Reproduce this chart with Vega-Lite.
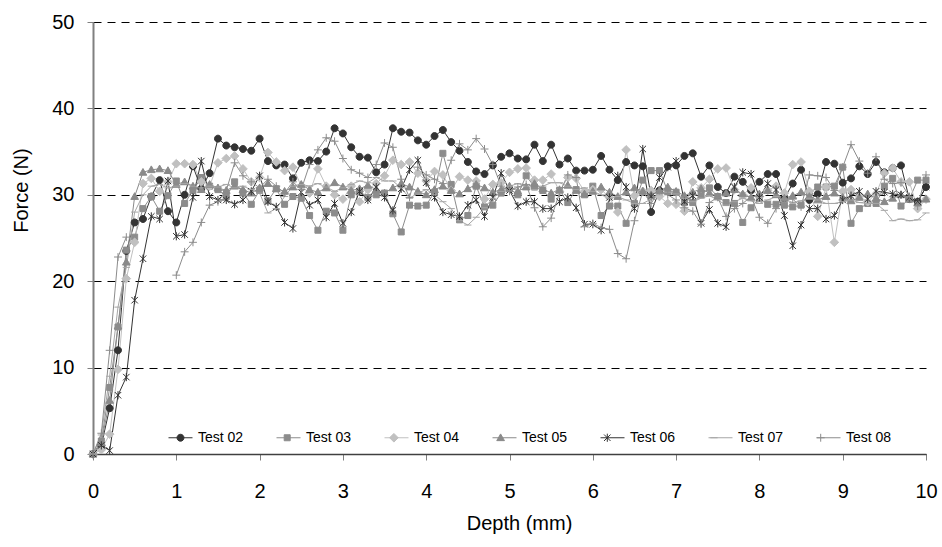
{
  "$schema": "https://vega.github.io/schema/vega-lite/v6.json",
  "width": 833,
  "height": 432,
  "autosize": {"type": "none"},
  "padding": {"left": 93, "top": 22, "right": 16, "bottom": 93},
  "background": "white",
  "config": {
    "view": {"stroke": null},
    "font": "Liberation Sans",
    "axis": {"labelFont": "Liberation Sans", "titleFont": "Liberation Sans", "labelColor": "#000", "titleColor": "#000", "labelFontSize": 20, "titleFontSize": 20, "titleFontWeight": "normal"},
    "legend": {"labelFont": "Liberation Sans"}
  },
  "data": {"values": [
{"test":"Test 02","depth":0,"force":0},{"test":"Test 02","depth":0.1,"force":1.0},{"test":"Test 02","depth":0.2,"force":5.3},{"test":"Test 02","depth":0.3,"force":12.0},{"test":"Test 02","depth":0.4,"force":23.5},{"test":"Test 02","depth":0.5,"force":26.8},{"test":"Test 02","depth":0.6,"force":27.2},{"test":"Test 02","depth":0.7,"force":29.8},{"test":"Test 02","depth":0.8,"force":31.7},{"test":"Test 02","depth":0.9,"force":28.1},
{"test":"Test 02","depth":1,"force":26.8},{"test":"Test 02","depth":1.1,"force":30.0},{"test":"Test 02","depth":1.2,"force":33.3},{"test":"Test 02","depth":1.3,"force":30.7},{"test":"Test 02","depth":1.4,"force":32.5},{"test":"Test 02","depth":1.5,"force":36.5},{"test":"Test 02","depth":1.6,"force":35.7},{"test":"Test 02","depth":1.7,"force":35.5},{"test":"Test 02","depth":1.8,"force":35.3},{"test":"Test 02","depth":1.9,"force":35.1},
{"test":"Test 02","depth":2,"force":36.5},{"test":"Test 02","depth":2.1,"force":33.9},{"test":"Test 02","depth":2.2,"force":33.4},{"test":"Test 02","depth":2.3,"force":33.5},{"test":"Test 02","depth":2.4,"force":31.9},{"test":"Test 02","depth":2.5,"force":33.7},{"test":"Test 02","depth":2.6,"force":34.0},{"test":"Test 02","depth":2.7,"force":33.9},{"test":"Test 02","depth":2.8,"force":35.0},{"test":"Test 02","depth":2.9,"force":37.7},
{"test":"Test 02","depth":3,"force":37.1},{"test":"Test 02","depth":3.1,"force":35.5},{"test":"Test 02","depth":3.2,"force":34.4},{"test":"Test 02","depth":3.3,"force":34.3},{"test":"Test 02","depth":3.4,"force":32.6},{"test":"Test 02","depth":3.5,"force":33.5},{"test":"Test 02","depth":3.6,"force":37.7},{"test":"Test 02","depth":3.7,"force":37.3},{"test":"Test 02","depth":3.8,"force":37.2},{"test":"Test 02","depth":3.9,"force":36.3},
{"test":"Test 02","depth":4,"force":35.8},{"test":"Test 02","depth":4.1,"force":36.8},{"test":"Test 02","depth":4.2,"force":37.5},{"test":"Test 02","depth":4.3,"force":36.1},{"test":"Test 02","depth":4.4,"force":35.1},{"test":"Test 02","depth":4.5,"force":33.8},{"test":"Test 02","depth":4.6,"force":32.7},{"test":"Test 02","depth":4.7,"force":32.4},{"test":"Test 02","depth":4.8,"force":33.4},{"test":"Test 02","depth":4.9,"force":34.4},
{"test":"Test 02","depth":5,"force":34.8},{"test":"Test 02","depth":5.1,"force":34.2},{"test":"Test 02","depth":5.2,"force":34.1},{"test":"Test 02","depth":5.3,"force":35.8},{"test":"Test 02","depth":5.4,"force":33.9},{"test":"Test 02","depth":5.5,"force":35.8},{"test":"Test 02","depth":5.6,"force":33.5},{"test":"Test 02","depth":5.7,"force":34.2},{"test":"Test 02","depth":5.8,"force":32.8},{"test":"Test 02","depth":5.9,"force":32.8},
{"test":"Test 02","depth":6,"force":32.9},{"test":"Test 02","depth":6.1,"force":34.5},{"test":"Test 02","depth":6.2,"force":32.9},{"test":"Test 02","depth":6.3,"force":31.7},{"test":"Test 02","depth":6.4,"force":33.8},{"test":"Test 02","depth":6.5,"force":33.4},{"test":"Test 02","depth":6.6,"force":33.3},{"test":"Test 02","depth":6.7,"force":28.0},{"test":"Test 02","depth":6.8,"force":30.5},{"test":"Test 02","depth":6.9,"force":33.3},
{"test":"Test 02","depth":7,"force":33.4},{"test":"Test 02","depth":7.1,"force":34.5},{"test":"Test 02","depth":7.2,"force":34.8},{"test":"Test 02","depth":7.3,"force":32.1},{"test":"Test 02","depth":7.4,"force":33.4},{"test":"Test 02","depth":7.5,"force":30.9},{"test":"Test 02","depth":7.6,"force":30.2},{"test":"Test 02","depth":7.7,"force":32.1},{"test":"Test 02","depth":7.8,"force":31.5},{"test":"Test 02","depth":7.9,"force":30.5},
{"test":"Test 02","depth":8,"force":31.5},{"test":"Test 02","depth":8.1,"force":32.4},{"test":"Test 02","depth":8.2,"force":32.4},{"test":"Test 02","depth":8.3,"force":29.6},{"test":"Test 02","depth":8.4,"force":31.3},{"test":"Test 02","depth":8.5,"force":32.9},{"test":"Test 02","depth":8.6,"force":29.4},{"test":"Test 02","depth":8.7,"force":30.1},{"test":"Test 02","depth":8.8,"force":33.8},{"test":"Test 02","depth":8.9,"force":33.6},
{"test":"Test 02","depth":9,"force":31.4},{"test":"Test 02","depth":9.1,"force":31.9},{"test":"Test 02","depth":9.2,"force":33.3},{"test":"Test 02","depth":9.3,"force":32.4},{"test":"Test 02","depth":9.4,"force":33.8},{"test":"Test 02","depth":9.5,"force":32.6},{"test":"Test 02","depth":9.6,"force":33.1},{"test":"Test 02","depth":9.7,"force":33.4},{"test":"Test 02","depth":9.8,"force":29.5},{"test":"Test 02","depth":9.9,"force":29.2},{"test":"Test 02","depth":10,"force":30.9},

{"test":"Test 03","depth":0,"force":0},{"test":"Test 03","depth":0.1,"force":1.5},{"test":"Test 03","depth":0.2,"force":7.7},{"test":"Test 03","depth":0.3,"force":14.7},{"test":"Test 03","depth":0.4,"force":23.6},{"test":"Test 03","depth":0.5,"force":25.1},{"test":"Test 03","depth":0.6,"force":28.4},{"test":"Test 03","depth":0.7,"force":29.8},{"test":"Test 03","depth":0.8,"force":28.1},{"test":"Test 03","depth":0.9,"force":29.9},
{"test":"Test 03","depth":1,"force":31.6},{"test":"Test 03","depth":1.1,"force":29.0},{"test":"Test 03","depth":1.2,"force":30.5},{"test":"Test 03","depth":1.3,"force":32.0},{"test":"Test 03","depth":1.4,"force":31.0},{"test":"Test 03","depth":1.5,"force":30.6},{"test":"Test 03","depth":1.6,"force":29.8},{"test":"Test 03","depth":1.7,"force":31.5},{"test":"Test 03","depth":1.8,"force":30.2},{"test":"Test 03","depth":1.9,"force":28.9},
{"test":"Test 03","depth":2,"force":30.5},{"test":"Test 03","depth":2.1,"force":29.3},{"test":"Test 03","depth":2.2,"force":30.7},{"test":"Test 03","depth":2.3,"force":28.9},{"test":"Test 03","depth":2.4,"force":29.8},{"test":"Test 03","depth":2.5,"force":29.6},{"test":"Test 03","depth":2.6,"force":27.6},{"test":"Test 03","depth":2.7,"force":25.9},{"test":"Test 03","depth":2.8,"force":28.1},{"test":"Test 03","depth":2.9,"force":27.9},
{"test":"Test 03","depth":3,"force":25.9},{"test":"Test 03","depth":3.1,"force":30.0},{"test":"Test 03","depth":3.2,"force":30.4},{"test":"Test 03","depth":3.3,"force":29.7},{"test":"Test 03","depth":3.4,"force":30.0},{"test":"Test 03","depth":3.5,"force":30.2},{"test":"Test 03","depth":3.6,"force":27.8},{"test":"Test 03","depth":3.7,"force":25.7},{"test":"Test 03","depth":3.8,"force":28.8},{"test":"Test 03","depth":3.9,"force":28.7},
{"test":"Test 03","depth":4,"force":28.8},{"test":"Test 03","depth":4.1,"force":30.3},{"test":"Test 03","depth":4.2,"force":34.8},{"test":"Test 03","depth":4.3,"force":31.2},{"test":"Test 03","depth":4.4,"force":27.1},{"test":"Test 03","depth":4.5,"force":27.6},{"test":"Test 03","depth":4.6,"force":31.0},{"test":"Test 03","depth":4.7,"force":28.6},{"test":"Test 03","depth":4.8,"force":28.8},{"test":"Test 03","depth":4.9,"force":30.2},
{"test":"Test 03","depth":5,"force":30.7},{"test":"Test 03","depth":5.1,"force":30.0},{"test":"Test 03","depth":5.2,"force":32.2},{"test":"Test 03","depth":5.3,"force":30.9},{"test":"Test 03","depth":5.4,"force":30.5},{"test":"Test 03","depth":5.5,"force":29.5},{"test":"Test 03","depth":5.6,"force":30.5},{"test":"Test 03","depth":5.7,"force":29.1},{"test":"Test 03","depth":5.8,"force":30.6},{"test":"Test 03","depth":5.9,"force":30.0},
{"test":"Test 03","depth":6,"force":31.0},{"test":"Test 03","depth":6.1,"force":27.6},{"test":"Test 03","depth":6.2,"force":28.7},{"test":"Test 03","depth":6.3,"force":28.7},{"test":"Test 03","depth":6.4,"force":26.7},{"test":"Test 03","depth":6.5,"force":29.0},{"test":"Test 03","depth":6.6,"force":31.7},{"test":"Test 03","depth":6.7,"force":32.8},{"test":"Test 03","depth":6.8,"force":32.8},{"test":"Test 03","depth":6.9,"force":30.4},
{"test":"Test 03","depth":7,"force":30.3},{"test":"Test 03","depth":7.1,"force":29.1},{"test":"Test 03","depth":7.2,"force":29.1},{"test":"Test 03","depth":7.3,"force":30.0},{"test":"Test 03","depth":7.4,"force":30.8},{"test":"Test 03","depth":7.5,"force":29.8},{"test":"Test 03","depth":7.6,"force":29.1},{"test":"Test 03","depth":7.7,"force":29.0},{"test":"Test 03","depth":7.8,"force":26.8},{"test":"Test 03","depth":7.9,"force":28.5},
{"test":"Test 03","depth":8,"force":29.6},{"test":"Test 03","depth":8.1,"force":28.9},{"test":"Test 03","depth":8.2,"force":28.9},{"test":"Test 03","depth":8.3,"force":28.8},{"test":"Test 03","depth":8.4,"force":28.6},{"test":"Test 03","depth":8.5,"force":28.8},{"test":"Test 03","depth":8.6,"force":30.2},{"test":"Test 03","depth":8.7,"force":30.9},{"test":"Test 03","depth":8.8,"force":30.9},{"test":"Test 03","depth":8.9,"force":31.0},
{"test":"Test 03","depth":9,"force":33.2},{"test":"Test 03","depth":9.1,"force":26.7},{"test":"Test 03","depth":9.2,"force":28.4},{"test":"Test 03","depth":9.3,"force":29.0},{"test":"Test 03","depth":9.4,"force":29.0},{"test":"Test 03","depth":9.5,"force":31.0},{"test":"Test 03","depth":9.6,"force":31.9},{"test":"Test 03","depth":9.7,"force":28.7},{"test":"Test 03","depth":9.8,"force":29.5},{"test":"Test 03","depth":9.9,"force":31.7},{"test":"Test 03","depth":10,"force":31.7},

{"test":"Test 04","depth":0,"force":0},{"test":"Test 04","depth":0.1,"force":0.5},{"test":"Test 04","depth":0.2,"force":2.3},{"test":"Test 04","depth":0.3,"force":9.8},{"test":"Test 04","depth":0.4,"force":20.3},{"test":"Test 04","depth":0.5,"force":24.5},{"test":"Test 04","depth":0.6,"force":31.3},{"test":"Test 04","depth":0.7,"force":31.9},{"test":"Test 04","depth":0.8,"force":30.4},{"test":"Test 04","depth":0.9,"force":31.5},
{"test":"Test 04","depth":1,"force":33.6},{"test":"Test 04","depth":1.1,"force":33.6},{"test":"Test 04","depth":1.2,"force":33.5},{"test":"Test 04","depth":1.3,"force":31.5},{"test":"Test 04","depth":1.4,"force":31.0},{"test":"Test 04","depth":1.5,"force":33.7},{"test":"Test 04","depth":1.6,"force":34.2},{"test":"Test 04","depth":1.7,"force":34.5},{"test":"Test 04","depth":1.8,"force":33.0},{"test":"Test 04","depth":1.9,"force":31.5},
{"test":"Test 04","depth":2,"force":32.0},{"test":"Test 04","depth":2.1,"force":34.9},{"test":"Test 04","depth":2.2,"force":33.8},{"test":"Test 04","depth":2.3,"force":32.8},{"test":"Test 04","depth":2.4,"force":33.2},{"test":"Test 04","depth":2.5,"force":31.0},{"test":"Test 04","depth":2.6,"force":30.2},{"test":"Test 04","depth":2.7,"force":33.0},{"test":"Test 04","depth":2.8,"force":31.0},{"test":"Test 04","depth":2.9,"force":30.0},
{"test":"Test 04","depth":3,"force":29.5},{"test":"Test 04","depth":3.1,"force":31.0},{"test":"Test 04","depth":3.2,"force":29.2},{"test":"Test 04","depth":3.3,"force":30.6},{"test":"Test 04","depth":3.4,"force":31.3},{"test":"Test 04","depth":3.5,"force":32.2},{"test":"Test 04","depth":3.6,"force":34.0},{"test":"Test 04","depth":3.7,"force":33.5},{"test":"Test 04","depth":3.8,"force":33.8},{"test":"Test 04","depth":3.9,"force":32.5},
{"test":"Test 04","depth":4,"force":31.6},{"test":"Test 04","depth":4.1,"force":32.7},{"test":"Test 04","depth":4.2,"force":32.3},{"test":"Test 04","depth":4.3,"force":30.5},{"test":"Test 04","depth":4.4,"force":32.1},{"test":"Test 04","depth":4.5,"force":31.7},{"test":"Test 04","depth":4.6,"force":31.6},{"test":"Test 04","depth":4.7,"force":29.5},{"test":"Test 04","depth":4.8,"force":31.2},{"test":"Test 04","depth":4.9,"force":31.4},
{"test":"Test 04","depth":5,"force":32.6},{"test":"Test 04","depth":5.1,"force":33.0},{"test":"Test 04","depth":5.2,"force":33.1},{"test":"Test 04","depth":5.3,"force":31.7},{"test":"Test 04","depth":5.4,"force":31.7},{"test":"Test 04","depth":5.5,"force":32.4},{"test":"Test 04","depth":5.6,"force":30.4},{"test":"Test 04","depth":5.7,"force":32.0},{"test":"Test 04","depth":5.8,"force":31.9},{"test":"Test 04","depth":5.9,"force":30.4},
{"test":"Test 04","depth":6,"force":30.6},{"test":"Test 04","depth":6.1,"force":30.6},{"test":"Test 04","depth":6.2,"force":29.7},{"test":"Test 04","depth":6.3,"force":28.0},{"test":"Test 04","depth":6.4,"force":35.2},{"test":"Test 04","depth":6.5,"force":29.9},{"test":"Test 04","depth":6.6,"force":30.4},{"test":"Test 04","depth":6.7,"force":30.5},{"test":"Test 04","depth":6.8,"force":29.8},{"test":"Test 04","depth":6.9,"force":29.0},
{"test":"Test 04","depth":7,"force":28.9},{"test":"Test 04","depth":7.1,"force":28.1},{"test":"Test 04","depth":7.2,"force":31.5},{"test":"Test 04","depth":7.3,"force":30.8},{"test":"Test 04","depth":7.4,"force":31.8},{"test":"Test 04","depth":7.5,"force":33.0},{"test":"Test 04","depth":7.6,"force":33.1},{"test":"Test 04","depth":7.7,"force":30.6},{"test":"Test 04","depth":7.8,"force":30.0},{"test":"Test 04","depth":7.9,"force":30.8},
{"test":"Test 04","depth":8,"force":29.8},{"test":"Test 04","depth":8.1,"force":30.5},{"test":"Test 04","depth":8.2,"force":31.0},{"test":"Test 04","depth":8.3,"force":30.2},{"test":"Test 04","depth":8.4,"force":33.5},{"test":"Test 04","depth":8.5,"force":33.8},{"test":"Test 04","depth":8.6,"force":30.4},{"test":"Test 04","depth":8.7,"force":27.5},{"test":"Test 04","depth":8.8,"force":30.9},{"test":"Test 04","depth":8.9,"force":24.5},
{"test":"Test 04","depth":9,"force":30.4},{"test":"Test 04","depth":9.1,"force":30.6},{"test":"Test 04","depth":9.2,"force":29.8},{"test":"Test 04","depth":9.3,"force":29.2},{"test":"Test 04","depth":9.4,"force":30.1},{"test":"Test 04","depth":9.5,"force":32.5},{"test":"Test 04","depth":9.6,"force":33.1},{"test":"Test 04","depth":9.7,"force":31.5},{"test":"Test 04","depth":9.8,"force":31.5},{"test":"Test 04","depth":9.9,"force":28.4},{"test":"Test 04","depth":10,"force":29.5},

{"test":"Test 05","depth":0,"force":0},{"test":"Test 05","depth":0.1,"force":1.3},{"test":"Test 05","depth":0.2,"force":6.2},{"test":"Test 05","depth":0.3,"force":14.8},{"test":"Test 05","depth":0.4,"force":22.2},{"test":"Test 05","depth":0.5,"force":29.8},{"test":"Test 05","depth":0.6,"force":32.6},{"test":"Test 05","depth":0.7,"force":32.9},{"test":"Test 05","depth":0.8,"force":33.0},{"test":"Test 05","depth":0.9,"force":32.8},
{"test":"Test 05","depth":1,"force":31.2},{"test":"Test 05","depth":1.1,"force":31.5},{"test":"Test 05","depth":1.2,"force":31.0},{"test":"Test 05","depth":1.3,"force":30.6},{"test":"Test 05","depth":1.4,"force":31.2},{"test":"Test 05","depth":1.5,"force":30.8},{"test":"Test 05","depth":1.6,"force":30.5},{"test":"Test 05","depth":1.7,"force":31.0},{"test":"Test 05","depth":1.8,"force":30.6},{"test":"Test 05","depth":1.9,"force":30.2},
{"test":"Test 05","depth":2,"force":30.8},{"test":"Test 05","depth":2.1,"force":31.3},{"test":"Test 05","depth":2.2,"force":30.7},{"test":"Test 05","depth":2.3,"force":30.4},{"test":"Test 05","depth":2.4,"force":30.9},{"test":"Test 05","depth":2.5,"force":31.2},{"test":"Test 05","depth":2.6,"force":30.6},{"test":"Test 05","depth":2.7,"force":30.3},{"test":"Test 05","depth":2.8,"force":30.8},{"test":"Test 05","depth":2.9,"force":31.4},
{"test":"Test 05","depth":3,"force":30.9},{"test":"Test 05","depth":3.1,"force":30.5},{"test":"Test 05","depth":3.2,"force":30.7},{"test":"Test 05","depth":3.3,"force":31.1},{"test":"Test 05","depth":3.4,"force":30.6},{"test":"Test 05","depth":3.5,"force":30.2},{"test":"Test 05","depth":3.6,"force":30.8},{"test":"Test 05","depth":3.7,"force":31.3},{"test":"Test 05","depth":3.8,"force":30.9},{"test":"Test 05","depth":3.9,"force":30.4},
{"test":"Test 05","depth":4,"force":30.0},{"test":"Test 05","depth":4.1,"force":30.6},{"test":"Test 05","depth":4.2,"force":31.0},{"test":"Test 05","depth":4.3,"force":30.5},{"test":"Test 05","depth":4.4,"force":30.1},{"test":"Test 05","depth":4.5,"force":30.7},{"test":"Test 05","depth":4.6,"force":31.2},{"test":"Test 05","depth":4.7,"force":30.8},{"test":"Test 05","depth":4.8,"force":30.3},{"test":"Test 05","depth":4.9,"force":30.6},
{"test":"Test 05","depth":5,"force":31.0},{"test":"Test 05","depth":5.1,"force":30.4},{"test":"Test 05","depth":5.2,"force":30.9},{"test":"Test 05","depth":5.3,"force":31.3},{"test":"Test 05","depth":5.4,"force":30.7},{"test":"Test 05","depth":5.5,"force":30.2},{"test":"Test 05","depth":5.6,"force":30.6},{"test":"Test 05","depth":5.7,"force":31.1},{"test":"Test 05","depth":5.8,"force":30.5},{"test":"Test 05","depth":5.9,"force":30.1},
{"test":"Test 05","depth":6,"force":30.4},{"test":"Test 05","depth":6.1,"force":30.9},{"test":"Test 05","depth":6.2,"force":30.3},{"test":"Test 05","depth":6.3,"force":29.8},{"test":"Test 05","depth":6.4,"force":30.3},{"test":"Test 05","depth":6.5,"force":30.8},{"test":"Test 05","depth":6.6,"force":30.4},{"test":"Test 05","depth":6.7,"force":30.0},{"test":"Test 05","depth":6.8,"force":30.5},{"test":"Test 05","depth":6.9,"force":30.9},
{"test":"Test 05","depth":7,"force":30.4},{"test":"Test 05","depth":7.1,"force":29.9},{"test":"Test 05","depth":7.2,"force":30.3},{"test":"Test 05","depth":7.3,"force":30.7},{"test":"Test 05","depth":7.4,"force":30.2},{"test":"Test 05","depth":7.5,"force":29.8},{"test":"Test 05","depth":7.6,"force":30.2},{"test":"Test 05","depth":7.7,"force":30.6},{"test":"Test 05","depth":7.8,"force":30.1},{"test":"Test 05","depth":7.9,"force":29.7},
{"test":"Test 05","depth":8,"force":30.1},{"test":"Test 05","depth":8.1,"force":30.5},{"test":"Test 05","depth":8.2,"force":30.0},{"test":"Test 05","depth":8.3,"force":29.6},{"test":"Test 05","depth":8.4,"force":29.9},{"test":"Test 05","depth":8.5,"force":30.3},{"test":"Test 05","depth":8.6,"force":29.8},{"test":"Test 05","depth":8.7,"force":29.4},{"test":"Test 05","depth":8.8,"force":29.8},{"test":"Test 05","depth":8.9,"force":30.2},
{"test":"Test 05","depth":9,"force":29.7},{"test":"Test 05","depth":9.1,"force":29.3},{"test":"Test 05","depth":9.2,"force":29.7},{"test":"Test 05","depth":9.3,"force":30.1},{"test":"Test 05","depth":9.4,"force":29.6},{"test":"Test 05","depth":9.5,"force":29.2},{"test":"Test 05","depth":9.6,"force":29.6},{"test":"Test 05","depth":9.7,"force":30.0},{"test":"Test 05","depth":9.8,"force":29.5},{"test":"Test 05","depth":9.9,"force":29.1},{"test":"Test 05","depth":10,"force":29.5},

{"test":"Test 06","depth":0,"force":0},{"test":"Test 06","depth":0.1,"force":1.0},{"test":"Test 06","depth":0.2,"force":0.4},{"test":"Test 06","depth":0.3,"force":6.8},{"test":"Test 06","depth":0.4,"force":8.9},{"test":"Test 06","depth":0.5,"force":17.8},{"test":"Test 06","depth":0.6,"force":22.6},{"test":"Test 06","depth":0.7,"force":27.5},{"test":"Test 06","depth":0.8,"force":27.2},{"test":"Test 06","depth":0.9,"force":31.6},
{"test":"Test 06","depth":1,"force":25.2},{"test":"Test 06","depth":1.1,"force":25.4},{"test":"Test 06","depth":1.2,"force":29.7},{"test":"Test 06","depth":1.3,"force":33.9},{"test":"Test 06","depth":1.4,"force":29.8},{"test":"Test 06","depth":1.5,"force":29.4},{"test":"Test 06","depth":1.6,"force":29.4},{"test":"Test 06","depth":1.7,"force":28.9},{"test":"Test 06","depth":1.8,"force":29.4},{"test":"Test 06","depth":1.9,"force":30.4},
{"test":"Test 06","depth":2,"force":32.2},{"test":"Test 06","depth":2.1,"force":29.2},{"test":"Test 06","depth":2.2,"force":28.6},{"test":"Test 06","depth":2.3,"force":26.8},{"test":"Test 06","depth":2.4,"force":26.1},{"test":"Test 06","depth":2.5,"force":30.3},{"test":"Test 06","depth":2.6,"force":28.8},{"test":"Test 06","depth":2.7,"force":29.4},{"test":"Test 06","depth":2.8,"force":27.4},{"test":"Test 06","depth":2.9,"force":29.0},
{"test":"Test 06","depth":3,"force":26.7},{"test":"Test 06","depth":3.1,"force":28.0},{"test":"Test 06","depth":3.2,"force":30.4},{"test":"Test 06","depth":3.3,"force":29.4},{"test":"Test 06","depth":3.4,"force":30.9},{"test":"Test 06","depth":3.5,"force":29.7},{"test":"Test 06","depth":3.6,"force":28.2},{"test":"Test 06","depth":3.7,"force":30.7},{"test":"Test 06","depth":3.8,"force":32.9},{"test":"Test 06","depth":3.9,"force":34.0},
{"test":"Test 06","depth":4,"force":31.4},{"test":"Test 06","depth":4.1,"force":29.7},{"test":"Test 06","depth":4.2,"force":28.0},{"test":"Test 06","depth":4.3,"force":27.7},{"test":"Test 06","depth":4.4,"force":27.5},{"test":"Test 06","depth":4.5,"force":28.8},{"test":"Test 06","depth":4.6,"force":29.4},{"test":"Test 06","depth":4.7,"force":27.5},{"test":"Test 06","depth":4.8,"force":29.7},{"test":"Test 06","depth":4.9,"force":32.5},
{"test":"Test 06","depth":5,"force":30.5},{"test":"Test 06","depth":5.1,"force":28.7},{"test":"Test 06","depth":5.2,"force":29.2},{"test":"Test 06","depth":5.3,"force":29.2},{"test":"Test 06","depth":5.4,"force":28.4},{"test":"Test 06","depth":5.5,"force":28.4},{"test":"Test 06","depth":5.6,"force":29.2},{"test":"Test 06","depth":5.7,"force":29.7},{"test":"Test 06","depth":5.8,"force":28.5},{"test":"Test 06","depth":5.9,"force":26.6},
{"test":"Test 06","depth":6,"force":26.6},{"test":"Test 06","depth":6.1,"force":25.9},{"test":"Test 06","depth":6.2,"force":29.7},{"test":"Test 06","depth":6.3,"force":32.2},{"test":"Test 06","depth":6.4,"force":30.9},{"test":"Test 06","depth":6.5,"force":28.4},{"test":"Test 06","depth":6.6,"force":35.3},{"test":"Test 06","depth":6.7,"force":29.8},{"test":"Test 06","depth":6.8,"force":32.0},{"test":"Test 06","depth":6.9,"force":33.2},
{"test":"Test 06","depth":7,"force":33.9},{"test":"Test 06","depth":7.1,"force":29.2},{"test":"Test 06","depth":7.2,"force":29.9},{"test":"Test 06","depth":7.3,"force":26.7},{"test":"Test 06","depth":7.4,"force":28.3},{"test":"Test 06","depth":7.5,"force":26.7},{"test":"Test 06","depth":7.6,"force":26.3},{"test":"Test 06","depth":7.7,"force":30.9},{"test":"Test 06","depth":7.8,"force":32.6},{"test":"Test 06","depth":7.9,"force":32.4},
{"test":"Test 06","depth":8,"force":29.7},{"test":"Test 06","depth":8.1,"force":31.3},{"test":"Test 06","depth":8.2,"force":30.6},{"test":"Test 06","depth":8.3,"force":27.6},{"test":"Test 06","depth":8.4,"force":24.1},{"test":"Test 06","depth":8.5,"force":26.5},{"test":"Test 06","depth":8.6,"force":28.4},{"test":"Test 06","depth":8.7,"force":28.4},{"test":"Test 06","depth":8.8,"force":27.2},{"test":"Test 06","depth":8.9,"force":27.6},
{"test":"Test 06","depth":9,"force":29.4},{"test":"Test 06","depth":9.1,"force":29.9},{"test":"Test 06","depth":9.2,"force":30.4},{"test":"Test 06","depth":9.3,"force":29.5},{"test":"Test 06","depth":9.4,"force":30.4},{"test":"Test 06","depth":9.5,"force":30.3},{"test":"Test 06","depth":9.6,"force":30.1},{"test":"Test 06","depth":9.7,"force":30.0},{"test":"Test 06","depth":9.8,"force":29.7},{"test":"Test 06","depth":9.9,"force":29.2},{"test":"Test 06","depth":10,"force":30.9},

{"test":"Test 07","depth":0,"force":0},{"test":"Test 07","depth":0.1,"force":2.2},{"test":"Test 07","depth":0.2,"force":9.0},{"test":"Test 07","depth":0.3,"force":17.0},{"test":"Test 07","depth":0.4,"force":21.6},{"test":"Test 07","depth":0.5,"force":28.0},{"test":"Test 07","depth":0.6,"force":30.0},{"test":"Test 07","depth":0.7,"force":31.0},{"test":"Test 07","depth":0.8,"force":31.2},{"test":"Test 07","depth":0.9,"force":30.8},
{"test":"Test 07","depth":1,"force":31.0},{"test":"Test 07","depth":1.1,"force":31.3},{"test":"Test 07","depth":1.2,"force":31.0},{"test":"Test 07","depth":1.3,"force":30.8},{"test":"Test 07","depth":1.4,"force":31.0},{"test":"Test 07","depth":1.5,"force":30.9},{"test":"Test 07","depth":1.6,"force":31.2},{"test":"Test 07","depth":1.7,"force":30.8},{"test":"Test 07","depth":1.8,"force":31.0},{"test":"Test 07","depth":1.9,"force":30.6},
{"test":"Test 07","depth":2,"force":30.2},{"test":"Test 07","depth":2.1,"force":27.9},{"test":"Test 07","depth":2.2,"force":28.4},{"test":"Test 07","depth":2.3,"force":29.8},{"test":"Test 07","depth":2.4,"force":31.0},{"test":"Test 07","depth":2.5,"force":31.2},{"test":"Test 07","depth":2.6,"force":31.0},{"test":"Test 07","depth":2.7,"force":31.3},{"test":"Test 07","depth":2.8,"force":30.9},{"test":"Test 07","depth":2.9,"force":30.4},
{"test":"Test 07","depth":3,"force":30.8},{"test":"Test 07","depth":3.1,"force":31.2},{"test":"Test 07","depth":3.2,"force":31.6},{"test":"Test 07","depth":3.3,"force":31.4},{"test":"Test 07","depth":3.4,"force":32.0},{"test":"Test 07","depth":3.5,"force":31.6},{"test":"Test 07","depth":3.6,"force":31.6},{"test":"Test 07","depth":3.7,"force":30.8},{"test":"Test 07","depth":3.8,"force":29.6},{"test":"Test 07","depth":3.9,"force":30.2},
{"test":"Test 07","depth":4,"force":30.6},{"test":"Test 07","depth":4.1,"force":30.0},{"test":"Test 07","depth":4.2,"force":29.2},{"test":"Test 07","depth":4.3,"force":28.4},{"test":"Test 07","depth":4.4,"force":27.0},{"test":"Test 07","depth":4.5,"force":26.5},{"test":"Test 07","depth":4.6,"force":27.4},{"test":"Test 07","depth":4.7,"force":28.5},{"test":"Test 07","depth":4.8,"force":29.6},{"test":"Test 07","depth":4.9,"force":30.4},
{"test":"Test 07","depth":5,"force":31.0},{"test":"Test 07","depth":5.1,"force":31.3},{"test":"Test 07","depth":5.2,"force":31.0},{"test":"Test 07","depth":5.3,"force":30.6},{"test":"Test 07","depth":5.4,"force":31.0},{"test":"Test 07","depth":5.5,"force":31.4},{"test":"Test 07","depth":5.6,"force":31.4},{"test":"Test 07","depth":5.7,"force":31.0},{"test":"Test 07","depth":5.8,"force":30.6},{"test":"Test 07","depth":5.9,"force":30.8},
{"test":"Test 07","depth":6,"force":30.4},{"test":"Test 07","depth":6.1,"force":30.0},{"test":"Test 07","depth":6.2,"force":29.6},{"test":"Test 07","depth":6.3,"force":29.8},{"test":"Test 07","depth":6.4,"force":29.4},{"test":"Test 07","depth":6.5,"force":29.0},{"test":"Test 07","depth":6.6,"force":29.0},{"test":"Test 07","depth":6.7,"force":29.5},{"test":"Test 07","depth":6.8,"force":30.0},{"test":"Test 07","depth":6.9,"force":30.3},
{"test":"Test 07","depth":7,"force":30.1},{"test":"Test 07","depth":7.1,"force":29.6},{"test":"Test 07","depth":7.2,"force":29.2},{"test":"Test 07","depth":7.3,"force":29.6},{"test":"Test 07","depth":7.4,"force":29.9},{"test":"Test 07","depth":7.5,"force":29.4},{"test":"Test 07","depth":7.6,"force":28.8},{"test":"Test 07","depth":7.7,"force":29.2},{"test":"Test 07","depth":7.8,"force":29.6},{"test":"Test 07","depth":7.9,"force":29.3},
{"test":"Test 07","depth":8,"force":29.0},{"test":"Test 07","depth":8.1,"force":29.4},{"test":"Test 07","depth":8.2,"force":29.8},{"test":"Test 07","depth":8.3,"force":29.5},{"test":"Test 07","depth":8.4,"force":29.1},{"test":"Test 07","depth":8.5,"force":29.3},{"test":"Test 07","depth":8.6,"force":29.6},{"test":"Test 07","depth":8.7,"force":29.4},{"test":"Test 07","depth":8.8,"force":29.0},{"test":"Test 07","depth":8.9,"force":29.0},
{"test":"Test 07","depth":9,"force":29.2},{"test":"Test 07","depth":9.1,"force":29.4},{"test":"Test 07","depth":9.2,"force":29.1},{"test":"Test 07","depth":9.3,"force":29.0},{"test":"Test 07","depth":9.4,"force":29.0},{"test":"Test 07","depth":9.5,"force":28.2},{"test":"Test 07","depth":9.6,"force":27.0},{"test":"Test 07","depth":9.7,"force":27.2},{"test":"Test 07","depth":9.8,"force":27.0},{"test":"Test 07","depth":9.9,"force":27.1},{"test":"Test 07","depth":10,"force":27.9},

{"test":"Test 08","depth":0,"force":0},{"test":"Test 08","depth":0.1,"force":2.4},{"test":"Test 08","depth":0.2,"force":12.0},{"test":"Test 08","depth":0.3,"force":22.8},{"test":"Test 08","depth":0.4,"force":25.1},{"test":"Test 08","depth":0.5,"force":null},{"test":"Test 08","depth":0.6,"force":null},{"test":"Test 08","depth":0.7,"force":null},{"test":"Test 08","depth":0.8,"force":null},{"test":"Test 08","depth":0.9,"force":null},
{"test":"Test 08","depth":1,"force":20.7},{"test":"Test 08","depth":1.1,"force":23.4},{"test":"Test 08","depth":1.2,"force":24.5},{"test":"Test 08","depth":1.3,"force":26.8},{"test":"Test 08","depth":1.4,"force":28.8},{"test":"Test 08","depth":1.5,"force":29.2},{"test":"Test 08","depth":1.6,"force":30.5},{"test":"Test 08","depth":1.7,"force":33.7},{"test":"Test 08","depth":1.8,"force":32.2},{"test":"Test 08","depth":1.9,"force":31.5},
{"test":"Test 08","depth":2,"force":30.8},{"test":"Test 08","depth":2.1,"force":31.8},{"test":"Test 08","depth":2.2,"force":31.0},{"test":"Test 08","depth":2.3,"force":30.2},{"test":"Test 08","depth":2.4,"force":31.5},{"test":"Test 08","depth":2.5,"force":30.6},{"test":"Test 08","depth":2.6,"force":33.5},{"test":"Test 08","depth":2.7,"force":35.2},{"test":"Test 08","depth":2.8,"force":36.6},{"test":"Test 08","depth":2.9,"force":36.2},
{"test":"Test 08","depth":3,"force":34.2},{"test":"Test 08","depth":3.1,"force":32.9},{"test":"Test 08","depth":3.2,"force":32.5},{"test":"Test 08","depth":3.3,"force":32.0},{"test":"Test 08","depth":3.4,"force":33.5},{"test":"Test 08","depth":3.5,"force":36.0},{"test":"Test 08","depth":3.6,"force":35.5},{"test":"Test 08","depth":3.7,"force":31.8},{"test":"Test 08","depth":3.8,"force":29.7},{"test":"Test 08","depth":3.9,"force":33.2},
{"test":"Test 08","depth":4,"force":32.3},{"test":"Test 08","depth":4.1,"force":31.8},{"test":"Test 08","depth":4.2,"force":31.3},{"test":"Test 08","depth":4.3,"force":34.0},{"test":"Test 08","depth":4.4,"force":35.9},{"test":"Test 08","depth":4.5,"force":35.2},{"test":"Test 08","depth":4.6,"force":36.5},{"test":"Test 08","depth":4.7,"force":35.3},{"test":"Test 08","depth":4.8,"force":33.5},{"test":"Test 08","depth":4.9,"force":31.0},
{"test":"Test 08","depth":5,"force":30.4},{"test":"Test 08","depth":5.1,"force":30.9},{"test":"Test 08","depth":5.2,"force":31.2},{"test":"Test 08","depth":5.3,"force":28.5},{"test":"Test 08","depth":5.4,"force":26.3},{"test":"Test 08","depth":5.5,"force":27.3},{"test":"Test 08","depth":5.6,"force":30.2},{"test":"Test 08","depth":5.7,"force":32.3},{"test":"Test 08","depth":5.8,"force":32.0},{"test":"Test 08","depth":5.9,"force":26.3},
{"test":"Test 08","depth":6,"force":26.7},{"test":"Test 08","depth":6.1,"force":26.2},{"test":"Test 08","depth":6.2,"force":26.0},{"test":"Test 08","depth":6.3,"force":23.2},{"test":"Test 08","depth":6.4,"force":22.6},{"test":"Test 08","depth":6.5,"force":27.0},{"test":"Test 08","depth":6.6,"force":30.4},{"test":"Test 08","depth":6.7,"force":29.0},{"test":"Test 08","depth":6.8,"force":30.5},{"test":"Test 08","depth":6.9,"force":30.0},
{"test":"Test 08","depth":7,"force":29.4},{"test":"Test 08","depth":7.1,"force":28.5},{"test":"Test 08","depth":7.2,"force":28.1},{"test":"Test 08","depth":7.3,"force":26.6},{"test":"Test 08","depth":7.4,"force":29.1},{"test":"Test 08","depth":7.5,"force":29.7},{"test":"Test 08","depth":7.6,"force":27.5},{"test":"Test 08","depth":7.7,"force":28.4},{"test":"Test 08","depth":7.8,"force":29.0},{"test":"Test 08","depth":7.9,"force":29.8},
{"test":"Test 08","depth":8,"force":27.4},{"test":"Test 08","depth":8.1,"force":26.7},{"test":"Test 08","depth":8.2,"force":28.4},{"test":"Test 08","depth":8.3,"force":29.5},{"test":"Test 08","depth":8.4,"force":29.5},{"test":"Test 08","depth":8.5,"force":28.6},{"test":"Test 08","depth":8.6,"force":32.3},{"test":"Test 08","depth":8.7,"force":32.2},{"test":"Test 08","depth":8.8,"force":32.0},{"test":"Test 08","depth":8.9,"force":30.5},
{"test":"Test 08","depth":9,"force":33.2},{"test":"Test 08","depth":9.1,"force":35.8},{"test":"Test 08","depth":9.2,"force":33.9},{"test":"Test 08","depth":9.3,"force":32.5},{"test":"Test 08","depth":9.4,"force":34.4},{"test":"Test 08","depth":9.5,"force":31.8},{"test":"Test 08","depth":9.6,"force":31.3},{"test":"Test 08","depth":9.7,"force":31.4},{"test":"Test 08","depth":9.8,"force":29.8},{"test":"Test 08","depth":9.9,"force":28.7},{"test":"Test 08","depth":10,"force":32.3}
  ]},
  "encoding": {
    "x": {"field": "depth", "type": "quantitative", "scale": {"domain": [0, 10], "nice": false, "zero": false},
      "axis": {"title": "Depth (mm)", "values": [0,1,2,3,4,5,6,7,8,9,10], "grid": false, "domainColor": "#404040", "domainWidth": 1.5, "tickColor": "#808080", "tickSize": 6, "labelPadding": 21, "titlePadding": 12, "titleX": 426, "labelFlush": false}},
    "y": {"field": "force", "type": "quantitative", "scale": {"domain": [0, 50], "nice": false},
      "axis": {"title": "Force (N)", "values": [0,10,20,30,40,50], "grid": true, "gridColor": "#000000", "gridDash": [8, 6], "gridWidth": 1, "gridOpacity": 1, "domainColor": "#808080", "domainWidth": 2, "tickColor": "#808080", "tickSize": 6, "labelPadding": 13, "titlePadding": 20, "titleY": 168, "labelFlush": false}}
  },
  "layer": [
    {
      "mark": {"type": "line", "strokeWidth": 1, "invalid": "break-paths-filter-domains"},
      "encoding": {
        "color": {"field": "test", "type": "nominal",
          "scale": {"domain": ["Test 02","Test 03","Test 04","Test 05","Test 06","Test 07","Test 08"], "range": ["#333333","#8c8c8c","#c0c0c0","#8a8a8a","#333333","#a6a6a6","#8c8c8c"]},
          "legend": {
            "title": null, "orient": "none", "legendX": 75, "legendY": 403, "direction": "horizontal", "columns": 7,
            "columnPadding": 30, "labelFontSize": 14, "labelOffset": 5, "padding": 0, "symbolSize": 576, "symbolStrokeWidth": 1,
            "symbolType": "stroke", "labelColor": "#000000"
          }}
      }
    },
    {
      "mark": {"type": "point", "size": 576, "strokeWidth": 1, "opacity": 1, "invalid": "filter"},
      "encoding": {
        "stroke": {"field": "test", "type": "nominal",
          "scale": {"range": ["#333333","#8c8c8c","#c0c0c0","#8a8a8a","#333333","#a6a6a6","#8c8c8c"]}},
        "fill": {"field": "test", "type": "nominal",
          "scale": {"range": ["#333333","#8c8c8c","#c0c0c0","#8a8a8a","transparent","transparent","transparent"]}},
        "shape": {"field": "test", "type": "nominal",
          "scale": {"range": [
            "M0.29,0A0.29,0.29 0 1,1 -0.29,0A0.29,0.29 0 1,1 0.29,0Z",
            "M-0.25,-0.25L0.25,-0.25L0.25,0.25L-0.25,0.25Z",
            "M0,-0.36L0.36,0L0,0.36L-0.36,0Z",
            "M0,-0.32L0.32,0.24L-0.32,0.24Z",
            "M-0.27,-0.27L0.27,0.27M-0.27,0.27L0.27,-0.27M0,-0.34L0,0.34",
            "M-0.3,0L0.3,0",
            "M-0.33,0L0.33,0M0,-0.33L0,0.33"]},
          "legend": {
            "title": null, "orient": "none", "legendX": 75, "legendY": 403, "direction": "horizontal", "columns": 7,
            "columnPadding": 76.7, "labelFontSize": 14, "labelOffset": 5, "padding": 0, "symbolSize": 576, "symbolStrokeWidth": 1,
            "labelColor": "#000000", "labelExpr": "''"
          }}
      }
    }
  ]
}
